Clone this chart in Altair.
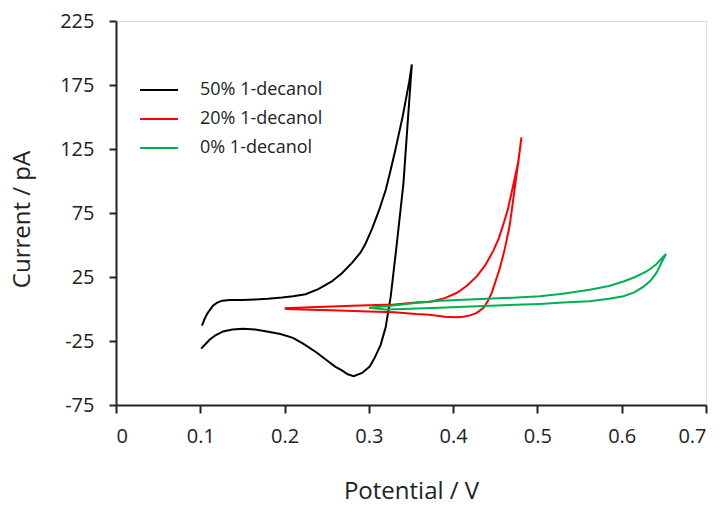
import altair as alt
import pandas as pd

series_names = ["50% 1-decanol", "20% 1-decanol", "0% 1-decanol"]
series_colors = ["#000000", "#FF0000", "#00B050"]

# 50% 1-decanol: forward (upper) branch then return (lower) branch
black_x = [0.102, 0.105, 0.108, 0.111, 0.115, 0.120, 0.126, 0.135, 0.150, 0.165, 0.180, 0.197,
           0.210, 0.225, 0.240, 0.256, 0.268, 0.280, 0.290, 0.296, 0.304, 0.312, 0.320, 0.326,
           0.331, 0.336, 0.340, 0.344, 0.348, 0.351,
           0.346, 0.341, 0.333, 0.326, 0.320, 0.314, 0.307, 0.301, 0.292, 0.282, 0.275, 0.268,
           0.260, 0.250, 0.238, 0.222, 0.210, 0.195, 0.179, 0.165, 0.151, 0.138, 0.127, 0.118,
           0.111, 0.106, 0.101]
black_y = [-13, -8, -4, -1, 2.5, 5, 6.5, 7, 7, 7.5, 8, 9,
           10, 11.5, 15.5, 21.5, 28, 36, 44, 51, 63, 77, 93, 109,
           123, 138, 150, 164, 178, 191,
           145, 98, 50, 10, -14, -28, -38, -45, -50, -52.5, -51, -48,
           -45, -40, -34, -27, -22.5, -19.5, -17.5, -16, -15.5, -16, -17.5, -20.5,
           -24, -27.5, -31]

# 20% 1-decanol
red_x = [0.200, 0.230, 0.256, 0.280, 0.300, 0.330, 0.356, 0.372, 0.390, 0.404, 0.416, 0.428,
         0.438, 0.448, 0.454, 0.460, 0.465, 0.469, 0.473, 0.477, 0.479, 0.481,
         0.478, 0.475, 0.471, 0.467, 0.461, 0.455, 0.450, 0.446, 0.441, 0.436, 0.428, 0.420,
         0.412, 0.404, 0.390, 0.372, 0.356, 0.330, 0.300, 0.256, 0.230, 0.201]
red_y = [0.5, 1.3, 2, 2.5, 3, 3.5, 5, 5.5, 8.5, 12.5, 18, 25.5,
         34, 46, 55, 67, 78, 90, 102, 114, 124, 134,
         118, 104, 84, 65, 46, 31, 21, 13, 6, 1, -3, -5,
         -6, -6.5, -6, -4.5, -4, -2.5, -2, -1, -0.5, 0]

# 0% 1-decanol
green_x = [0.300, 0.320, 0.340, 0.360, 0.384, 0.420, 0.460, 0.503, 0.530, 0.562, 0.585, 0.602,
           0.616, 0.630, 0.641, 0.6525,
           0.647, 0.641, 0.634, 0.626, 0.615, 0.602, 0.585, 0.562, 0.530, 0.503, 0.444, 0.384,
           0.340, 0.320, 0.300]
green_y = [1, 2.2, 3.5, 5, 6.5, 7.5, 8.5, 10, 12, 15, 18, 21.5,
           25, 29.5, 35, 43,
           36, 28, 22, 17.5, 13, 10, 8, 6, 5, 4, 2.6, 1,
           0, -0.3, 1]

x_ticks = [0, 0.1, 0.2, 0.3, 0.4, 0.5, 0.6, 0.7]
y_ticks = [-75, -25, 25, 75, 125, 175, 225]

rows = []
for name, xs, ys in zip(series_names, [black_x, red_x, green_x], [black_y, red_y, green_y]):
    for i, (xv, yv) in enumerate(zip(xs, ys)):
        rows.append({"potential": xv, "current": yv, "series": name, "order": i})
df = pd.DataFrame(rows)

FONT = "Open Sans"
INK = "#222222"

chart = alt.Chart(df).mark_line(strokeWidth=2).encode(
    x=alt.X("potential:Q",
            scale=alt.Scale(domain=[0, 0.7], nice=False, zero=False),
            axis=alt.Axis(values=x_ticks, title="Potential / V", grid=False,
                          labelExpr="'' + datum.value",
                          domainColor=INK, domainWidth=2, tickColor=INK, tickWidth=2,
                          tickSize=8, labelPadding=13, labelFont=FONT, labelFontSize=20,
                          labelColor=INK, titleFont=FONT, titleFontSize=24,
                          titleFontWeight="normal", titleColor=INK, titleY=86,
                          titleBaseline="middle")),
    y=alt.Y("current:Q",
            scale=alt.Scale(domain=[-75, 225], nice=False, zero=False),
            axis=alt.Axis(values=y_ticks, title="Current / pA", grid=False,
                          labelExpr="'' + datum.value",
                          domainColor=INK, domainWidth=2, tickColor=INK, tickWidth=2,
                          tickSize=7, labelPadding=15, labelFont=FONT, labelFontSize=20,
                          labelColor=INK, titleFont=FONT, titleFontSize=24,
                          titleFontWeight="normal", titleColor=INK, titleX=-94, titleY=198,
                          titleAngle=-90, titleAlign="center", titleBaseline="middle")),
    color=alt.Color("series:N",
                    scale=alt.Scale(domain=series_names, range=series_colors),
                    legend=alt.Legend(orient="none", legendX=23, legendY=49, title=None,
                                      symbolType="stroke", symbolSize=1444,
                                      symbolStrokeWidth=2, labelFont=FONT,
                                      labelFontSize=18, labelColor=INK, labelOffset=21,
                                      rowPadding=-1.5, padding=0)),
    order="order:Q",
).properties(
    width=590, height=384,
    autosize=alt.AutoSizeParams(type="none"),
    padding={"left": 116, "top": 21, "right": 17, "bottom": 101},
).configure_view(stroke=INK, strokeWidth=2).configure(background="white")

chart.save("out.html", embed_options={"renderer": "svg", "actions": False})
